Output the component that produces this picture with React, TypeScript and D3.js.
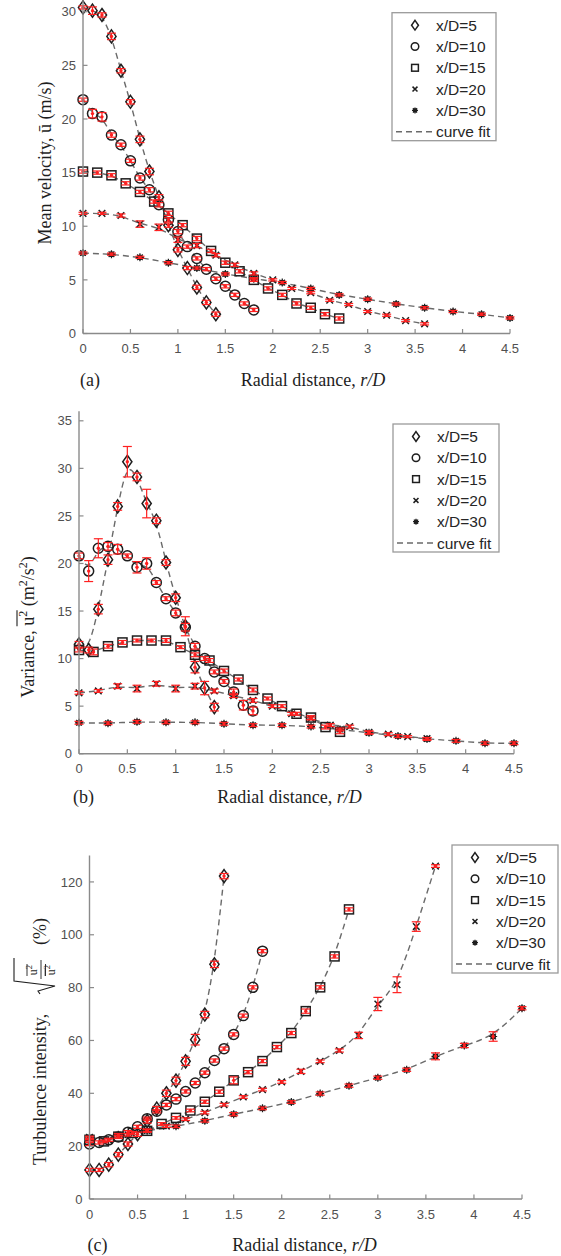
import React, { useLayoutEffect, useRef, useState } from "react";
import * as d3 from "d3";

// ---- radial stations (r/D) for each downstream location ----
const R_XD5 = [0, 0.1, 0.2, 0.3, 0.4, 0.5, 0.6, 0.7, 0.8, 0.9, 1.0, 1.1, 1.2, 1.3, 1.4];
const R_XD10 = [0, 0.1, 0.2, 0.3, 0.4, 0.5, 0.6, 0.7, 0.8, 0.9, 1.0, 1.1, 1.2, 1.3, 1.4, 1.5, 1.6, 1.7, 1.8];
const R_XD15 = [0, 0.15, 0.3, 0.45, 0.6, 0.75, 0.9, 1.05, 1.2, 1.35, 1.5, 1.65, 1.8, 1.95, 2.1, 2.25, 2.4, 2.55, 2.7];
const R_XD20 = [0, 0.2, 0.4, 0.6, 0.8, 1.0, 1.2, 1.4, 1.6, 1.8, 2.0, 2.2, 2.4, 2.6, 2.8, 3.0, 3.2, 3.4, 3.6];
const R_XD30 = [0, 0.3, 0.6, 0.9, 1.2, 1.5, 1.8, 2.1, 2.4, 2.7, 3.0, 3.3, 3.6, 3.9, 4.2, 4.5];

const SERIES_LABELS = ["x/D=5", "x/D=10", "x/D=15", "x/D=20", "x/D=30"];
const FIT_LABEL = "curve fit";

// ---- (a) mean velocity, m/s ----
const MEAN_U5 = [30.4, 30.1, 29.7, 27.7, 24.5, 21.6, 18.1, 15.1, 12.7, 10.1, 7.8, 6.1, 4.3, 2.9, 1.8];
const MEAN_U10 = [21.8, 20.5, 20.2, 18.5, 17.6, 16.1, 14.5, 13.4, 12.0, 10.6, 9.5, 8.1, 7.0, 6.0, 5.1, 4.4, 3.6, 2.8, 2.2];
const MEAN_U15 = [15.1, 15.0, 14.75, 14.0, 13.2, 12.3, 11.2, 10.1, 8.85, 7.7, 6.6, 5.8, 5.0, 4.2, 3.6, 2.8, 2.4, 1.8, 1.4];
const MEAN_U20 = [11.2, 11.2, 11.0, 10.2, 9.9, 8.75, 8.2, 7.3, 6.4, 5.6, 5.0, 4.2, 3.8, 3.1, 2.7, 2.05, 1.7, 1.2, 0.9];
const MEAN_U30 = [7.5, 7.4, 7.1, 6.6, 6.1, 5.55, 5.1, 4.75, 4.2, 3.6, 3.2, 2.75, 2.4, 2.05, 1.8, 1.45];

const ERR_U5 = [0.15, 0.35, 0.2, 0.3, 0.2, 0.2, 0.3, 0.3, 0.25, 0.2, 0.2, 0.15, 0.2, 0.2, 0.2];
const ERR_U10 = [0.15, 0.4, 0.4, 0.2, 0.15, 0.15, 0.2, 0.2, 0.2, 0.2, 0.2, 0.15, 0.15, 0.15, 0.15, 0.15, 0.15, 0.15, 0.15];
const ERR_U15 = [0.15, 0.15, 0.15, 0.15, 0.15, 0.15, 0.2, 0.15, 0.2, 0.15, 0.15, 0.15, 0.15, 0.15, 0.15, 0.15, 0.15, 0.15, 0.15];
const ERR_U20 = [0.1, 0.1, 0.15, 0.3, 0.3, 0.25, 0.2, 0.15, 0.15, 0.15, 0.1, 0.1, 0.1, 0.1, 0.1, 0.1, 0.1, 0.1, 0.1];
const ERR_U30 = [0.1, 0.1, 0.1, 0.1, 0.1, 0.1, 0.1, 0.1, 0.1, 0.1, 0.1, 0.1, 0.1, 0.1, 0.1, 0.1];

// ---- (b) variance, m^2/s^2 ----
const VAR_5 = [11.5, 10.9, 15.2, 20.4, 26.0, 30.7, 29.1, 26.3, 24.5, 20.1, 16.4, 13.4, 9.1, 6.9, 4.9];
const VAR_10 = [20.8, 19.2, 21.6, 21.8, 21.5, 20.8, 19.6, 20.0, 18.0, 16.3, 14.8, 13.3, 11.3, 10.0, 8.6, 7.6, 6.5, 5.1, 4.5];
const VAR_15 = [10.9, 10.7, 11.3, 11.7, 11.9, 11.9, 11.9, 11.2, 10.4, 9.8, 8.7, 7.8, 6.7, 5.8, 5.0, 4.2, 3.8, 2.8, 2.3];
const VAR_20 = [6.4, 6.6, 7.1, 6.85, 7.35, 6.85, 7.1, 6.6, 6.1, 5.6, 5.0, 4.2, 3.7, 3.0, 2.85, 2.25, 2.05, 1.8, 1.6];
const VAR_30 = [3.25, 3.2, 3.35, 3.3, 3.3, 3.15, 3.0, 3.0, 2.85, 2.55, 2.2, 1.85, 1.55, 1.35, 1.1, 1.1];

const ERR_V5 = [0.3, 0.3, 0.5, 0.5, 0.4, 1.6, 0.4, 1.5, 0.3, 0.3, 0.4, 1.0, 0.6, 0.7, 0.4];
const ERR_V10 = [0.3, 1.1, 1.0, 0.4, 0.5, 0.2, 0.6, 0.6, 0.2, 0.2, 0.3, 0.4, 0.3, 0.2, 0.2, 0.2, 0.3, 0.5, 0.4];
const ERR_V15 = [0.2, 0.3, 0.2, 0.2, 0.15, 0.15, 0.2, 0.15, 0.2, 0.2, 0.2, 0.15, 0.2, 0.15, 0.15, 0.15, 0.2, 0.2, 0.2];
const ERR_V20 = [0.15, 0.15, 0.25, 0.35, 0.25, 0.35, 0.3, 0.2, 0.2, 0.2, 0.15, 0.15, 0.15, 0.15, 0.15, 0.15, 0.15, 0.1, 0.1];
const ERR_V30 = [0.15, 0.15, 0.15, 0.15, 0.15, 0.15, 0.15, 0.15, 0.15, 0.15, 0.15, 0.15, 0.15, 0.15, 0.15, 0.15];

// ---- (c) turbulence intensity, % ----
const TI_5 = [11.0, 11.0, 13.0, 16.8, 20.8, 24.5, 29.5, 34.2, 40.0, 44.8, 52.1, 60.3, 69.8, 88.8, 122.2];
const TI_10 = [20.8, 21.4, 22.4, 23.5, 25.3, 27.3, 30.4, 33.2, 35.6, 37.8, 40.7, 43.9, 47.8, 52.4, 56.9, 62.3, 69.4, 80.1, 93.8];
const TI_15 = [22.4, 21.8, 23.6, 25.0, 25.8, 28.4, 30.7, 33.5, 36.8, 40.6, 44.9, 48.0, 52.2, 57.5, 62.8, 71.1, 80.1, 91.8, 109.6];
const TI_20 = [23.3, 22.3, 24.3, 26.0, 27.6, 30.2, 32.7, 35.7, 38.6, 41.4, 44.3, 48.3, 52.1, 56.2, 61.9, 73.8, 81.1, 103.1, 126.0];
const TI_30 = [23.0, 24.3, 25.8, 27.5, 29.6, 32.1, 34.3, 36.7, 39.9, 42.9, 45.9, 48.9, 54.0, 58.1, 61.5, 72.2];

const ERR_T5 = [0.6, 0.6, 0.8, 0.8, 0.8, 0.8, 0.8, 0.8, 1.2, 1.3, 1.5, 2.0, 1.2, 1.2, 1.0];
const ERR_T10 = [0.6, 0.6, 0.6, 0.6, 0.6, 0.6, 0.6, 0.6, 0.6, 0.6, 0.6, 0.6, 0.6, 0.6, 0.6, 0.6, 0.6, 0.6, 0.6];
const ERR_T15 = [0.5, 0.5, 0.5, 0.5, 0.5, 0.5, 0.5, 0.5, 0.6, 0.6, 1.3, 0.6, 0.6, 0.6, 0.6, 0.8, 0.6, 0.6, 0.6];
const ERR_T20 = [0.5, 0.5, 0.5, 0.5, 0.5, 0.5, 0.5, 0.5, 0.5, 0.5, 0.5, 0.8, 0.5, 0.6, 1.2, 2.5, 3.0, 1.8, 0.5];
const ERR_T30 = [0.5, 0.5, 0.5, 0.5, 0.5, 0.6, 0.5, 0.5, 0.6, 0.6, 0.6, 0.6, 1.3, 0.8, 1.8, 0.6];

// ---- axis ticks ----
const X_TICKS = [0, 0.5, 1, 1.5, 2, 2.5, 3, 3.5, 4, 4.5];
const U_TICKS = [0, 5, 10, 15, 20, 25, 30];
const VAR_TICKS = [0, 5, 10, 15, 20, 25, 30, 35];
const TI_TICKS = [0, 20, 40, 60, 80, 100, 120];

const RADII = [R_XD5, R_XD10, R_XD15, R_XD20, R_XD30];
const MARKERS = ["diamond", "circle", "square", "cross", "star"];

const SERIF = "'Liberation Serif', 'Times New Roman', Times, serif";
const SANS = "'Liberation Sans', Arial, Helvetica, sans-serif";
const AXIS_COLOR = "#8a8a8a";
const TICK_TEXT = "#505050";
const INK = "#1e1e1e";
const RED = "#ff2020";
const FIT = "#6a6a6a";

type PanelCfg = {
  tag: string;
  ys: number[][];
  errs: number[][];
  yTicks: number[];
  yMax: number;
  x0: number;
  x1: number;
  yBase: number;
  yTop: number;
  legend: { left: number; right: number; top: number };
  xlabelCx: number;
  labelY: number;
  tagX: number;
};

const PANELS: PanelCfg[] = [
  {
    tag: "(a)",
    ys: [MEAN_U5, MEAN_U10, MEAN_U15, MEAN_U20, MEAN_U30],
    errs: [ERR_U5, ERR_U10, ERR_U15, ERR_U20, ERR_U30],
    yTicks: U_TICKS,
    yMax: 31,
    x0: 83,
    x1: 510,
    yBase: 333.5,
    yTop: 1,
    legend: { left: 392, right: 496, top: 12.7 },
    xlabelCx: 313,
    labelY: 386,
    tagX: 80,
  },
  {
    tag: "(b)",
    ys: [VAR_5, VAR_10, VAR_15, VAR_20, VAR_30],
    errs: [ERR_V5, ERR_V10, ERR_V15, ERR_V20, ERR_V30],
    yTicks: VAR_TICKS,
    yMax: 36,
    x0: 79,
    x1: 514,
    yBase: 753.7,
    yTop: 411.3,
    legend: { left: 393, right: 499, top: 424 },
    xlabelCx: 289.5,
    labelY: 803,
    tagX: 73,
  },
  {
    tag: "(c)",
    ys: [TI_5, TI_10, TI_15, TI_20, TI_30],
    errs: [ERR_T5, ERR_T10, ERR_T15, ERR_T20, ERR_T30],
    yTicks: TI_TICKS,
    yMax: 130,
    x0: 89.5,
    x1: 522,
    yBase: 1199,
    yTop: 855.5,
    legend: { left: 452, right: 558, top: 845 },
    xlabelCx: 304.5,
    labelY: 1251,
    tagX: 87.5,
  },
];

function Marker({ type, x, y, s }: { type: string; x: number; y: number; s: number }) {
  const sw = 1.5;
  if (type === "diamond") {
    const w = 4.6 * s, h = 6.5 * s;
    return <path d={`M${x},${y - h}L${x + w},${y}L${x},${y + h}L${x - w},${y}Z`} fill="none" stroke={INK} strokeWidth={sw} />;
  }
  if (type === "circle") return <circle cx={x} cy={y} r={5 * s} fill="none" stroke={INK} strokeWidth={sw} />;
  if (type === "square") {
    const h = 4.5 * s;
    return <rect x={x - h} y={y - h} width={2 * h} height={2 * h} fill="none" stroke={INK} strokeWidth={sw} />;
  }
  if (type === "cross") {
    const h = 3.3 * s;
    return <path d={`M${x - h},${y - h}L${x + h},${y + h}M${x + h},${y - h}L${x - h},${y + h}`} stroke={INK} strokeWidth={sw} />;
  }
  const r = 4 * s;
  const rays = [0, 45, 90, 135].map((a) => {
    const c = Math.cos((a * Math.PI) / 180) * r, sn = Math.sin((a * Math.PI) / 180) * r;
    return `M${x - c},${y - sn}L${x + c},${y + sn}`;
  });
  return (
    <g>
      <path d={rays.join("")} stroke={INK} strokeWidth={1.2} />
      <circle cx={x} cy={y} r={2.9 * s} fill={INK} />
    </g>
  );
}

function Panel({ cfg }: { cfg: PanelCfg }) {
  const x = d3.scaleLinear().domain([0, 4.5]).range([cfg.x0, cfg.x1]);
  const y = d3.scaleLinear().domain([0, cfg.yMax]).range([cfg.yBase, cfg.yTop]);
  const line = d3
    .line<[number, number]>()
    .x((d) => x(d[0]))
    .y((d) => y(d[1]))
    .curve(d3.curveBasis);

  const series = cfg.ys.map((vals, i) => ({
    type: MARKERS[i],
    pts: vals.map((v, j) => ({ r: RADII[i][j], v, e: cfg.errs[i][j] })),
  }));

  const lg = cfg.legend;
  const rowY = (k: number) => lg.top + 12.5 + k * 21.3;
  const markX = lg.left + 23;
  const textX = lg.left + 44;

  return (
    <g>
      {/* fitted profiles */}
      {series.map((s, i) => (
        <path
          key={`fit${i}`}
          d={line(s.pts.map((p) => [p.r, p.v] as [number, number])) || ""}
          fill="none"
          stroke={FIT}
          strokeWidth={1.4}
          strokeDasharray="6 4"
        />
      ))}
      {/* measured points */}
      {series.map((s, i) =>
        s.pts.map((p, j) => <Marker key={`m${i}-${j}`} type={s.type} x={x(p.r)} y={y(p.v)} s={1} />)
      )}
      {/* error bars */}
      {series.map((s, i) =>
        s.pts.map((p, j) => {
          const cx = x(p.r), lo = y(p.v - p.e), hi = y(p.v + p.e);
          return (
            <g key={`e${i}-${j}`} stroke={RED} strokeWidth={1.2}>
              <line x1={cx} x2={cx} y1={lo} y2={hi} />
              <line x1={cx - 4.5} x2={cx + 4.5} y1={lo} y2={lo} />
              <line x1={cx - 4.5} x2={cx + 4.5} y1={hi} y2={hi} />
              <circle cx={cx} cy={y(p.v)} r={1.7} fill={RED} stroke="none" />
            </g>
          );
        })
      )}

      {/* axes */}
      <line x1={cfg.x0} x2={cfg.x1} y1={cfg.yBase} y2={cfg.yBase} stroke={AXIS_COLOR} strokeWidth={1.4} />
      <line x1={cfg.x0} x2={cfg.x0} y1={cfg.yBase} y2={cfg.yTop} stroke={AXIS_COLOR} strokeWidth={1.4} />
      {X_TICKS.map((t) => (
        <g key={`xt${t}`}>
          <line x1={x(t)} x2={x(t)} y1={cfg.yBase} y2={cfg.yBase - 4.5} stroke={AXIS_COLOR} strokeWidth={1.2} />
          <text x={x(t)} y={cfg.yBase + 19.5} textAnchor="middle" fontFamily={SANS} fontSize={13} fill={TICK_TEXT}>
            {String(t)}
          </text>
        </g>
      ))}
      {cfg.yTicks.map((t) => (
        <g key={`yt${t}`}>
          <line x1={cfg.x0} x2={cfg.x0 + 4.5} y1={y(t)} y2={y(t)} stroke={AXIS_COLOR} strokeWidth={1.2} />
          <text x={cfg.x0 - 7} y={y(t)} dy="0.36em" textAnchor="end" fontFamily={SANS} fontSize={13} fill={TICK_TEXT}>
            {String(t)}
          </text>
        </g>
      ))}

      {/* x label and panel tag */}
      <text x={cfg.xlabelCx} y={cfg.labelY} textAnchor="middle" fontFamily={SERIF} fontSize={18} fill={INK}>
        Radial distance, <tspan fontStyle="italic">r/D</tspan>
      </text>
      <text x={cfg.tagX} y={cfg.labelY} fontFamily={SERIF} fontSize={18} fill={INK}>
        {cfg.tag}
      </text>

      {/* legend */}
      <rect x={lg.left} y={lg.top} width={lg.right - lg.left} height={128} fill="#fff" stroke="#9a9a9a" strokeWidth={1.3} />
      {SERIES_LABELS.map((lab, k) => (
        <g key={`lg${k}`}>
          <Marker type={MARKERS[k]} x={markX} y={rowY(k)} s={0.75} />
          <text x={textX} y={rowY(k)} dy="0.36em" fontFamily={SANS} fontSize={15.5} fill="#262626">
            {lab}
          </text>
        </g>
      ))}
      <line x1={lg.left + 4} x2={textX - 3} y1={rowY(5)} y2={rowY(5)} stroke={FIT} strokeWidth={1.4} strokeDasharray="6 4" />
      <text x={textX} y={rowY(5)} dy="0.36em" fontFamily={SANS} fontSize={15.5} fill="#262626">
        {FIT_LABEL}
      </text>
    </g>
  );
}

function VarianceLabel({ cx, cy }: { cx: number; cy: number }) {
  const ref = useRef<SVGTextElement>(null);
  const [bar, setBar] = useState<[number, number] | null>(null);
  useLayoutEffect(() => {
    const t = ref.current;
    if (!t) return;
    const s = t.getStartPositionOfChar(10).x;
    const e = t.getEndPositionOfChar(11).x;
    setBar([s - 0.5, e + 0.5]);
  }, []);
  return (
    <g transform={`translate(${cx},${cy}) rotate(-90)`}>
      <text ref={ref} x={0} y={0} textAnchor="middle" fontFamily={SERIF} fontSize={18} fill={INK}>
        Variance, u<tspan dy={-7} fontSize={12}>2</tspan>
        <tspan dy={7}> (m</tspan>
        <tspan dy={-7} fontSize={12}>2</tspan>
        <tspan dy={7}>/s</tspan>
        <tspan dy={-7} fontSize={12}>2</tspan>
        <tspan dy={7}>)</tspan>
      </text>
      {bar && <line x1={bar[0]} x2={bar[1]} y1={-17} y2={-17} stroke={INK} strokeWidth={1.1} />}
    </g>
  );
}

function IntensityLabel({ bx, by }: { bx: number; by: number }) {
  return (
    <g transform={`translate(${bx},${by}) rotate(-90)`} fontFamily={SERIF} fill={INK}>
      <text x={0} y={0} fontSize={18}>Turbulence intensity,</text>
      <path d="M171,-6L174,-8L179,9L184,-32L207,-32" fill="none" stroke={INK} strokeWidth={1.1} />
      <text x={195} y={-9} fontSize={12} textAnchor="middle">
        u<tspan dy={-5} fontSize={8.5}>2</tspan>
      </text>
      <line x1={189} x2={201} y1={-19} y2={-19} stroke={INK} strokeWidth={0.9} />
      <line x1={186} x2={205} y1={-5} y2={-5} stroke={INK} strokeWidth={0.9} />
      <text x={195} y={9} fontSize={12} textAnchor="middle">
        u<tspan dy={-5} fontSize={8.5}>2</tspan>
      </text>
      <line x1={189} x2={201} y1={-0.5} y2={-0.5} stroke={INK} strokeWidth={0.9} />
      <line x1={189} x2={196} y1={-1} y2={-1} stroke={INK} strokeWidth={0.6} />
      <text x={220} y={0} fontSize={18}>(%)</text>
    </g>
  );
}

export default function App() {
  return (
    <svg
      width={561}
      height={1256}
      viewBox="0 0 561 1256"
      style={{ position: "absolute", left: 0, top: 0, background: "#fff", display: "block" }}
    >
      <rect width={561} height={1256} fill="#fff" />
      {PANELS.map((p) => (
        <Panel key={p.tag} cfg={p} />
      ))}
      <g transform="translate(51,163) rotate(-90)">
        <text x={0} y={0} textAnchor="middle" fontFamily={SERIF} fontSize={18} fill={INK}>
          Mean velocity, ū (m/s)
        </text>
      </g>
      <VarianceLabel cx={34} cy={627} />
      <IntensityLabel bx={46} by={1165} />
    </svg>
  );
}
